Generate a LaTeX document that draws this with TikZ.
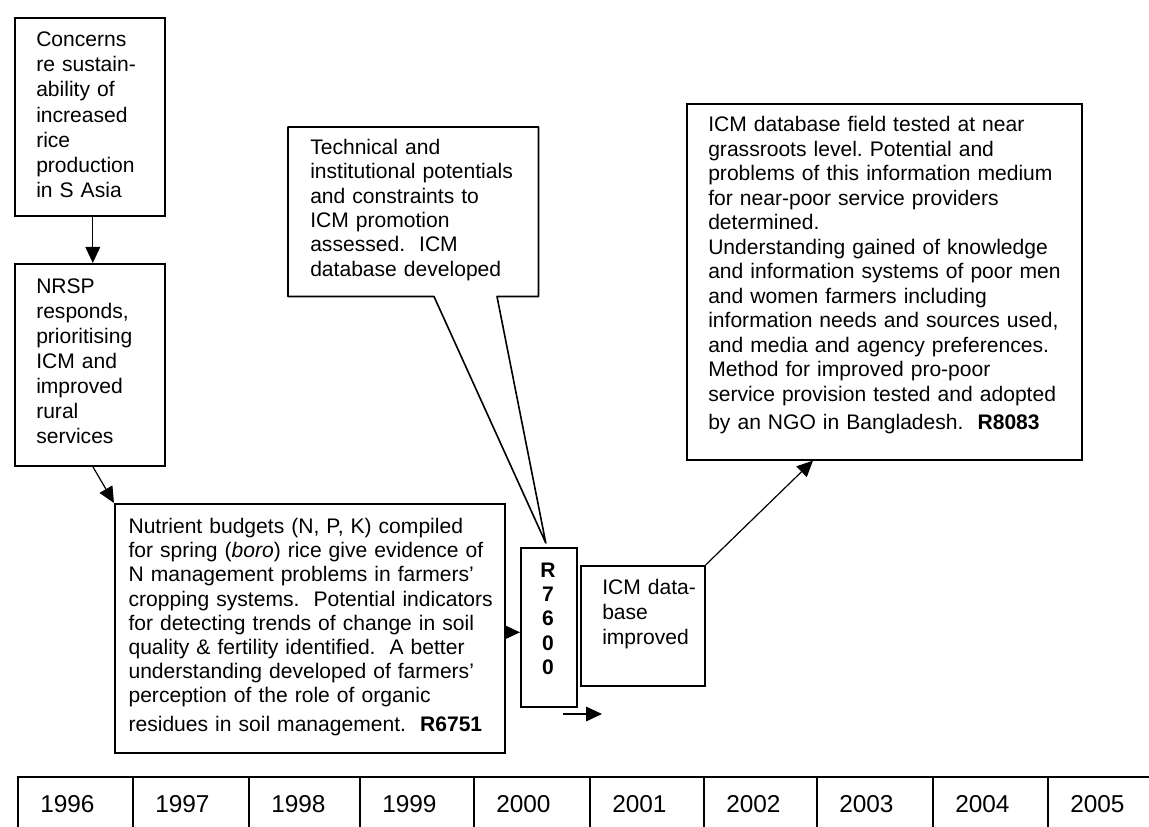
\documentclass[tikz,border=0pt]{standalone}
\usepackage{fontspec}
\setmainfont{Liberation Sans}
\usetikzlibrary{arrows.meta,calc}
\frenchspacing
\begin{document}
\begin{tikzpicture}[x=0.75pt,y=-0.75pt,
  boxst/.style={draw=black, line width=1.2pt, rectangle, inner sep=0pt, anchor=north west},
  plainbox/.style={rectangle, inner sep=0pt, anchor=north west},
  cell/.style={draw=black, line width=1.2pt, rectangle, inner sep=0pt, anchor=north west, minimum height=45pt},
  txt/.style={anchor=base west, inner sep=0pt, align=left, text width=300pt},
  arr/.style={-{Triangle[length=12pt,width=11pt]}, line width=0.9pt},
  yearst/.style={anchor=base west, inner sep=0pt, font=\fontsize{18.3}{20}\selectfont}]
\useasboundingbox (0,0) rectangle (1149,827);
\fill[white] (0,0) rectangle (1149,827);
\clip (0,0) rectangle (1149,827);

% boxes
\node[boxst, minimum width=112.5pt, minimum height=148.5pt] (A) at (14,17) {};
\node[boxst, minimum width=112.5pt, minimum height=151.5pt] (B) at (14,263) {};
\node[boxst, minimum width=292.5pt, minimum height=186.75pt] (C) at (114,503) {};
\node[boxst, minimum width=42pt, minimum height=119.25pt] (S) at (520,547) {};
\node[boxst, minimum width=93pt, minimum height=90pt] (D) at (580,565) {};
\node[boxst, minimum width=296.25pt, minimum height=267pt] (R) at (686,103) {};
\node[plainbox, minimum width=187.5pt, minimum height=126.75pt] (T) at (288,127) {};

% callout outline of T pointing to R7600
\coordinate (tip) at ($(S.north)+(-3,-4)$);
\draw[line width=1.2pt, line join=round] (T.north west) -- (T.north east) -- (T.south east)
  -- ($(T.south west)+(209,0)$) -- (tip) -- ($(T.south west)+(146,0)$) -- (T.south west) -- cycle;

% texts
\node[txt, font=\fontsize{15.8}{18.9}\selectfont] (tA) at (36,46.5)
  {Concerns\\re sustain-\\ability of\\increased\\rice\\production\\in S Asia};
\node[txt, font=\fontsize{15.8}{18.75}\selectfont] (tB) at (36,293)
  {NRSP\\responds,\\prioritising\\ICM and\\improved\\rural\\services};
\node[txt, font=\fontsize{15.8}{18.15}\selectfont] (tC) at (128.3,533.4)
  {Nutrient budgets (N, P, K) compiled\\
   for spring (\textit{boro}) rice give evidence of\\
   N management problems in farmers’\\
   cropping systems.~ Potential indicators\\
   for detecting trends of change in soil\\
   quality \& fertility identified.~ A better\\
   understanding developed of farmers’\\
   perception of the role of organic\\[3pt]
   residues in soil management.~ \textbf{R6751}};
\node[txt, font=\fontsize{15.8}{18.3}\selectfont] (tT) at (310,154.3)
  {Technical and\\institutional potentials\\and constraints to\\ICM promotion\\assessed.~ ICM\\database developed};
\node[txt, font=\fontsize{15.8}{18.75}\selectfont] (tD) at (602,594.3)
  {ICM data-\\base\\improved};
\node[anchor=base, inner sep=0pt, align=center, text width=30pt, font=\fontsize{15.8}{18.15}\selectfont\bfseries] (tS) at (548,577.5)
  {R\\7\\6\\0\\0};
\node[txt, font=\fontsize{15.8}{18.4}\selectfont] (tR) at (708,131.5)
  {ICM database field tested at near\\
   grassroots level. Potential and\\
   problems of this information medium\\
   for near-poor service providers\\
   determined.\\
   Understanding gained of knowledge\\
   and information systems of poor men\\
   and women farmers including\\
   information needs and sources used,\\
   and media and agency preferences.\\
   Method for improved pro-poor\\
   service provision tested and adopted\\[2.85pt]
   by an NGO in Bangladesh.~ \textbf{R8083}};

% connectors
\draw[arr] ([xshift=2.25pt]A.south) -- ([xshift=2.25pt]B.north);
\draw[arr] ([xshift=2.25pt]B.south) -- (C.north west);
\coordinate (cs) at ([yshift=-3.75pt]S.west);
\draw[arr] (cs -| C.east) -- (cs);
\draw[arr] (D.north east) -- ($(R.south west)+(127,0)$);
\coordinate (fa1) at (563,714);
\coordinate (fa2) at (602,714);
\draw[arr] (fa1) -- (fa2);

% timeline
\foreach \yr/\xl/\cw in {1996/17/86.25pt, 1997/132/87pt, 1998/248/83.25pt, 1999/359/85.5pt,
  2000/473/87pt, 2001/589/85.5pt, 2002/703/84.75pt, 2003/816/87pt, 2004/932/86.25pt, 2005/1047/86.25pt}{
  \node[cell, minimum width=\cw] (y\yr) at (\xl,776) {};
  \node[yearst] (t\yr) at (\xl+23,812) {\yr};
}
\end{tikzpicture}
\end{document}
